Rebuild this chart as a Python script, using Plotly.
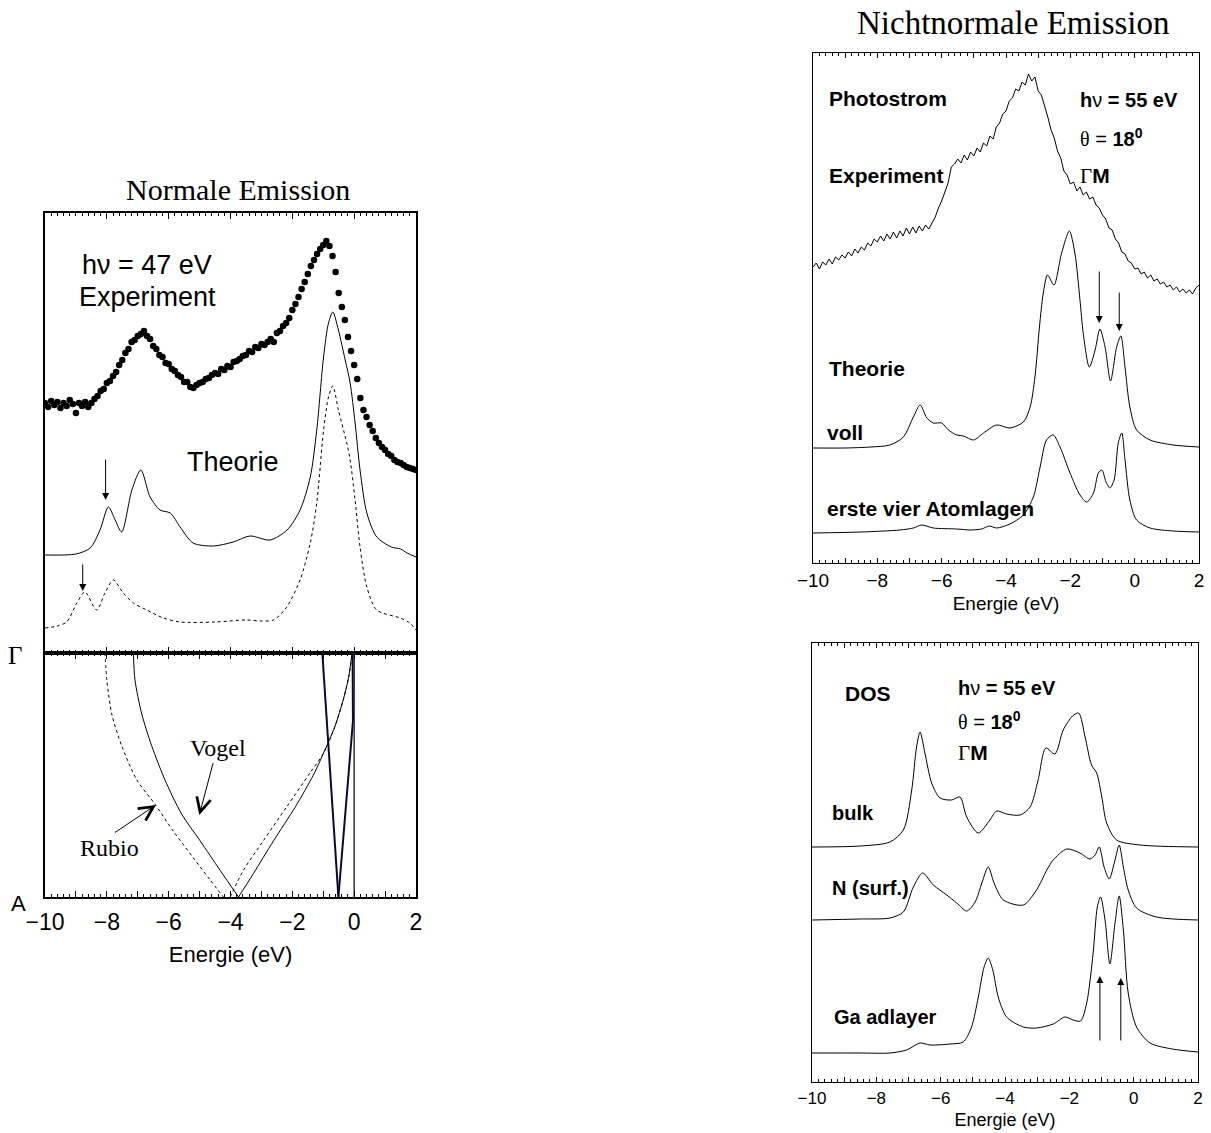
import plotly.graph_objects as go

# ---------------- DATA ----------------
# Energy grid of the measured spectra (eV)
E_GRID = [round(-10 + 0.1 * i, 1) for i in range(121)]

# Left: normal emission, hv = 47 eV, experiment (dots)
exp47 = [250, 246, 252, 248, 251, 245, 250, 247, 253, 249,
         240, 250, 247, 251, 246, 250, 254, 257, 262, 264,
         270, 272, 277, 281, 288, 293, 300, 304, 311, 313,
         317, 319, 322, 317, 314, 307, 304, 298, 296, 290,
         289, 284, 282, 278, 276, 271, 271, 266, 265, 268,
         270, 271, 274, 275, 278, 280, 279, 284, 283, 287,
         286, 291, 292, 294, 297, 298, 302, 301, 306, 305,
         309, 308, 311, 314, 311, 320, 322, 327, 330, 335,
         343, 349, 356, 364, 371, 379, 387, 393, 399, 404,
         408, 412, 407, 397, 381, 360, 346, 333, 316, 302,
         288, 274, 255, 243, 236, 228, 222, 215, 210, 206,
         203, 199, 197, 193, 191, 190, 188, 186, 185, 184, 183]

# Left: theory (solid)
th47_E = [-10, -9.0, -8.54, -8.22, -7.95, -7.73, -7.52, -7.19, -6.90, -6.60, -6.28, -5.95,
          -5.63, -5.21, -4.56, -3.91, -3.37, -2.72, -2.17, -1.75, -1.42, -1.21, -0.99, -0.83,
          -0.69, -0.51, -0.29, -0.13, 0.03, 0.19, 0.41, 0.73, 1.2, 1.5, 1.71, 2.0]
th47_I = [98, 99, 105, 123, 146, 133, 121, 163, 183, 156, 143, 140,
          126, 110, 107, 111, 117, 113, 123, 143, 176, 223, 296, 330,
          341, 323, 293, 270, 230, 183, 140, 116, 106, 104, 100, 96]

# Left: theory (dotted)
th47d_E = [-10, -9.6, -9.30, -8.97, -8.71, -8.33, -8.06, -7.79, -7.47, -7.14, -6.71, -6.17,
           -5.63, -4.5, -3.5, -3.0, -2.61, -2.18, -1.75, -1.42, -1.21, -0.99, -0.83, -0.69,
           -0.51, -0.24, -0.13, 0.03, 0.19, 0.41, 0.73, 1.49, 1.8, 2.0]
th47d_I = [25, 27, 31, 50, 61, 43, 60, 73, 60, 50, 43, 35,
           31, 31, 33, 32, 33, 46, 73, 110, 150, 223, 256, 267,
           243, 210, 193, 153, 106, 66, 43, 35, 30, 23]

# Left: band structure Gamma (k=1) -> A (k=0)
rubio_E = [-8.06, -8.00, -7.84, -7.52, -7.03, -6.44, -5.85, -5.20, -4.66, -4.23]
rubio_k = [1.0, 0.89, 0.75, 0.62, 0.48, 0.38, 0.27, 0.16, 0.07, 0.0]
vogel_E = [-7.14, -7.09, -6.87, -6.55, -6.12, -5.58, -4.98, -4.34, -3.74]
vogel_k = [1.0, 0.89, 0.75, 0.62, 0.48, 0.34, 0.23, 0.11, 0.0]
up_sol_E = [-3.74, -3.26, -2.61, -1.90, -1.32, -0.99, -0.62, -0.35, -0.18, -0.07]
up_sol_k = [0.0, 0.096, 0.23, 0.37, 0.50, 0.59, 0.70, 0.81, 0.90, 1.0]
up_dot_E = [-4.01, -3.58, -2.94, -2.18, -1.42, -0.99, -0.62, -0.35, -0.18, -0.05]
up_dot_k = [0.0, 0.11, 0.23, 0.37, 0.51, 0.59, 0.70, 0.81, 0.90, 1.0]
surfA_E = [-1.03, -0.51]
surfA_k = [1.0, 0.0]
surfB_E = [-0.05, -0.04, -0.51]
surfB_k = [1.0, 0.72, 0.0]
fermi_E = [0.0, 0.0]
fermi_k = [0.0, 1.0]

# Right top: hv = 55 eV, theta = 18 deg, experiment
exp55 = [296, 300, 294, 301, 298, 304, 299, 306, 303, 308,
         305, 311, 307, 314, 310, 316, 313, 320, 317, 324,
         321, 327, 322, 329, 324, 331, 325, 332, 327, 335,
         329, 336, 330, 337, 332, 338, 334, 340, 346, 355,
         362, 371, 380, 396, 399, 404, 400, 408, 403, 411,
         407, 415, 411, 420, 417, 427, 424, 436, 440, 449,
         452, 462, 465, 474, 472, 481, 478, 489, 482, 486,
         472, 468, 458, 446, 433, 425, 412, 405, 392, 388,
         379, 381, 372, 376, 368, 371, 364, 366, 358, 355,
         348, 344, 335, 333, 324, 320, 311, 309, 302, 300,
         294, 295, 289, 291, 285, 288, 282, 284, 279, 281,
         276, 278, 273, 276, 271, 274, 270, 273, 269, 275, 278]

voll_E = [-10, -9, -8.2, -7.61, -7.19, -6.88, -6.67, -6.46, -6.26, -6.0, -5.79, -5.53,
          -5.32, -5.01, -4.70, -4.29, -3.88, -3.46, -3.25, -3.10, -2.96, -2.84, -2.71, -2.51,
          -2.27, -2.03, -1.86, -1.70, -1.60, -1.41, -1.23, -1.08, -0.92, -0.75, -0.56, -0.43,
          -0.30, -0.15, 0.06, 0.48, 1.2, 2.0]
voll_I = [115, 115, 116, 118, 126, 146, 158, 145, 140, 140, 133, 128,
          127, 123, 130, 138, 135, 141, 156, 186, 236, 270, 288, 278,
          310, 332, 310, 263, 230, 196, 213, 234, 216, 182, 216, 227,
          196, 156, 133, 123, 118, 116]

vier_E = [-10, -8.5, -7.30, -6.88, -6.62, -6.26, -5.53, -5.12, -4.76, -4.52, -4.29, -3.88,
          -3.46, -3.15, -2.94, -2.74, -2.53, -2.32, -2.01, -1.70, -1.49, -1.28, -1.13, -1.02,
          -0.89, -0.77, -0.64, -0.51, -0.40, -0.30, -0.15, 0.06, 0.48, 1.2, 2.0]
vier_I = [30, 31, 33, 35, 38, 35, 34, 33, 34, 37, 35, 39,
          48, 66, 96, 123, 128, 116, 90, 68, 61, 70, 90, 93,
          81, 75, 83, 120, 130, 103, 63, 43, 35, 32, 31]

# Right bottom: DOS
bulk_E = [-10, -8.5, -7.58, -7.16, -6.90, -6.75, -6.64, -6.49, -6.28, -6.02, -5.66, -5.40,
          -5.19, -4.83, -4.47, -4.26, -3.95, -3.53, -3.22, -2.97, -2.73, -2.45, -2.19, -1.90,
          -1.71, -1.51, -1.31, -1.15, -0.99, -0.84, -0.53, 0.20, 2.0]
bulk_I = [235, 236, 240, 252, 292, 335, 350, 329, 299, 284, 282, 285,
          265, 249, 262, 271, 268, 267, 275, 302, 334, 328, 352, 366,
          369, 345, 317, 309, 285, 259, 242, 237, 235]

nsurf_E = [-10, -8.5, -7.58, -7.16, -6.85, -6.56, -6.23, -5.81, -5.50, -5.19, -4.93, -4.72,
           -4.52, -4.34, -4.05, -3.43, -3.02, -2.70, -2.50, -2.08, -1.67, -1.36, -1.20, -1.07,
           -0.92, -0.76, -0.58, -0.45, -0.32, -0.17, 0.09, 0.71, 2.0]
nsurf_I = [162, 163, 164, 170, 195, 209, 197, 187, 179, 171, 180, 199,
           215, 199, 182, 177, 192, 212, 222, 233, 229, 223, 227, 235,
           215, 203, 222, 237, 215, 192, 174, 165, 162]

ga_E = [-10, -8.5, -7.58, -7.06, -6.64, -6.33, -5.71, -5.30, -5.04, -4.83, -4.65, -4.52,
        -4.38, -4.21, -3.95, -3.43, -3.02, -2.50, -2.14, -1.88, -1.65, -1.46, -1.26, -1.13,
        -1.03, -0.89, -0.74, -0.58, -0.45, -0.32, -0.17, 0.09, 0.51, 1.2, 2.0]
ga_I = [29, 29, 29, 32, 39, 37, 38, 40, 55, 85, 115, 124,
        112, 85, 65, 55, 54, 58, 65, 62, 61, 79, 129, 175,
        185, 162, 118, 159, 186, 152, 89, 55, 39, 33, 30]

# Tick labels
TICK_VALS = list(range(-10, 3))
TICK_TEXT = [("\u2212" + str(-v) if v < 0 else str(v)) if v % 2 == 0 else "" for v in TICK_VALS]

# ---------------- FIGURE ----------------
SANS = "Liberation Sans, Arial, sans-serif"
SERIF = "Liberation Serif, Times New Roman, serif"
W, H = 1211, 1133

def px_x(p):
    return p / W

def px_y(p):
    return 1 - p / H

fig = go.Figure()

def line(x, y, xa, ya, dash="solid", width=1.0, color="black", shape="spline"):
    fig.add_trace(go.Scatter(x=x, y=y, xaxis=xa, yaxis=ya, mode="lines",
                             line=dict(color=color, width=width, dash=dash, shape=shape, smoothing=0.8),
                             hoverinfo="skip", showlegend=False))

# Left top
fig.add_trace(go.Scatter(x=E_GRID, y=exp47, xaxis="x", yaxis="y", mode="markers",
                         marker=dict(color="black", size=6.5), showlegend=False, hoverinfo="skip"))
line(th47_E, th47_I, "x", "y")
line(th47d_E, th47d_I, "x", "y", dash="dot")

# Left bottom (band structure)
line(rubio_E, rubio_k, "x2", "y2", dash="dot")
line(vogel_E, vogel_k, "x2", "y2")
line(up_dot_E, up_dot_k, "x2", "y2", dash="dot")
line(up_sol_E, up_sol_k, "x2", "y2")
line(fermi_E, fermi_k, "x2", "y2", width=1.5, color="#333333", shape="linear")
line(surfA_E, surfA_k, "x2", "y2", width=2, color="#0a0a30", shape="linear")
line(surfB_E, surfB_k, "x2", "y2", width=2, color="#0a0a30", shape="linear")

# Right top
line(E_GRID, exp55, "x3", "y3", shape="linear")
line(voll_E, voll_I, "x3", "y3")
line(vier_E, vier_I, "x3", "y3")

# Right bottom
line(bulk_E, bulk_I, "x4", "y4")
line(nsurf_E, nsurf_I, "x4", "y4")
line(ga_E, ga_I, "x4", "y4")


def xaxis(domain, anchor, show_labels, font_size, title=None, title_size=None,
          lw=1.5, tl=6, mtl=3, standoff=None, lab_standoff=0):
    d = dict(domain=domain, anchor=anchor, range=[-10, 2], tickmode="array",
             tickvals=TICK_VALS, ticktext=TICK_TEXT, ticks="inside", ticklen=tl,
             tickwidth=1, tickcolor="black",
             minor=dict(tickmode="linear", tick0=-10, dtick=0.2, ticks="inside",
                        ticklen=mtl, tickwidth=1, tickcolor="black"),
             showline=True, linecolor="black", linewidth=lw, mirror="ticks",
             showgrid=False, zeroline=False, showticklabels=show_labels,
             automargin=False, ticklabelstandoff=lab_standoff,
             tickfont=dict(family=SANS, size=font_size, color="black"))
    if title:
        d["title"] = dict(text=title, font=dict(family=SANS, size=title_size, color="black"),
                          standoff=standoff)
    return d


def yaxis(domain, anchor, rng, lw=1.5):
    return dict(domain=domain, anchor=anchor, range=rng, showline=True, linecolor="black",
                linewidth=lw, mirror=True, ticks="", showticklabels=False,
                showgrid=False, zeroline=False, automargin=False)

LX = [px_x(45), px_x(416)]
RX_T = [px_x(813), px_x(1199)]
RX_B = [px_x(812), px_x(1198)]

fig.update_layout(
    width=W, height=H, margin=dict(l=0, r=0, t=0, b=0, autoexpand=False),
    paper_bgcolor="white", plot_bgcolor="white",
    xaxis=xaxis(LX, "y", False, 22),
    yaxis=yaxis([px_y(653), px_y(213)], "x", [0, 440]),
    xaxis2=xaxis(LX, "y2", True, 23, "Energie (eV)", 22, standoff=12, lab_standoff=4),
    yaxis2=yaxis([px_y(897), px_y(653)], "x2", [0, 1]),
    xaxis3=xaxis(RX_T, "y3", True, 19, "Energie (eV)", 19, lw=1.2, tl=5, mtl=2.5, standoff=6),
    yaxis3=yaxis([px_y(563), px_y(53)], "x3", [0, 510], lw=1.2),
    xaxis4=xaxis(RX_B, "y4", True, 17, "Energie (eV)", 18, lw=1.2, tl=5, mtl=2.5, standoff=6),
    yaxis4=yaxis([px_y(1082), px_y(643)], "x4", [0, 439], lw=1.2),
)

ann = []

def text(x, y, s, xr, yr, size, family=SANS, xanchor="center", yanchor="middle"):
    ann.append(dict(x=x, y=y, xref=xr, yref=yr, text=s, showarrow=False,
                    font=dict(family=family, size=size, color="black"),
                    xanchor=xanchor, yanchor=yanchor))

def arrow(x, y0, y1, xr, yr, x0=None, head=2, size=1.4, width=1.0):
    ann.append(dict(x=x, y=y1, ax=(x if x0 is None else x0), ay=y0, xref=xr, yref=yr,
                    axref=xr, ayref=yr, text="", showarrow=True, arrowhead=head,
                    arrowsize=size, arrowwidth=width, arrowcolor="black"))

# Titles
text(px_x(237.5), px_y(189), "Normale Emission", "paper", "paper", 30, SERIF)
text(px_x(1013), px_y(23), "Nichtnormale Emission", "paper", "paper", 33, SERIF)

# Left top labels
text(-6.70, 388, "h\u03bd = 47 eV", "x", "y", 27)
text(-6.68, 356, "Experiment", "x", "y", 27)
text(-3.92, 191, "Theorie", "x", "y", 27)
arrow(-8.04, 195, 153, "x", "y")
arrow(-8.78, 90, 62, "x", "y")

# Left bottom labels
text(px_x(15), px_y(655), "\u0393", "paper", "paper", 25, SERIF)
text(px_x(18), px_y(903), "A", "paper", "paper", 22, SANS)
text(-4.40, 0.61, "Vogel", "x2", "y2", 24, SERIF)
text(-7.90, 0.20, "Rubio", "x2", "y2", 24, SERIF)
arrow(-5.01, 0.555, 0.336, "x2", "y2", x0=-4.55, head=5, size=2.8, width=1)
arrow(-6.41, 0.26, 0.377, "x2", "y2", x0=-7.79, head=5, size=2.8, width=1)

# Right top labels
GR = '<span style="font-family:Liberation Serif;font-weight:normal">\u0393</span>'
TH = '<span style="font-family:Liberation Serif;font-weight:normal">\u03b8</span>'
NU = '<span style="font-weight:normal">\u03bd</span>'
text(-9.57, 465, "<b>Photostrom</b>", "x3", "y3", 21, xanchor="left")
text(-9.57, 388, "<b>Experiment</b>", "x3", "y3", 21, xanchor="left")
text(-1.75, 463, "<b>h</b>" + NU + "<b> = 55 eV</b>", "x3", "y3", 20, xanchor="left")
text(-1.75, 426, TH + " = <b>18<sup>0</sup></b>", "x3", "y3", 20, xanchor="left")
text(-1.75, 387, GR + "<b>M</b>", "x3", "y3", 21, xanchor="left")
text(-9.57, 195, "<b>Theorie</b>", "x3", "y3", 21, xanchor="left")
text(-9.62, 131, "<b>voll</b>", "x3", "y3", 21, xanchor="left")
text(-9.63, 55, "<b>erste vier Atomlagen</b>", "x3", "y3", 21, xanchor="left")
arrow(-1.10, 293, 240, "x3", "y3")
arrow(-0.48, 272, 232, "x3", "y3")

# Right bottom labels
text(-9.03, 389, "<b>DOS</b>", "x4", "y4", 21, xanchor="left")
text(-5.52, 394, "<b>h</b>" + NU + "<b> = 55 eV</b>", "x4", "y4", 20, xanchor="left")
text(-5.52, 362, TH + " = <b>18<sup>0</sup></b>", "x4", "y4", 20, xanchor="left")
text(-5.52, 329, GR + "<b>M</b>", "x4", "y4", 21, xanchor="left")
text(-9.44, 269, "<b>bulk</b>", "x4", "y4", 20, xanchor="left")
text(-9.44, 194, "<b>N (surf.)</b>", "x4", "y4", 20, xanchor="left")
text(-9.38, 65, "<b>Ga adlayer</b>", "x4", "y4", 20, xanchor="left")
arrow(-1.05, 40, 106, "x4", "y4")
arrow(-0.40, 40, 104, "x4", "y4")

fig.update_layout(annotations=ann)

fig.write_html("out.html", config={"displayModeBar": False},
               post_script="document.body.style.margin='0px';")
